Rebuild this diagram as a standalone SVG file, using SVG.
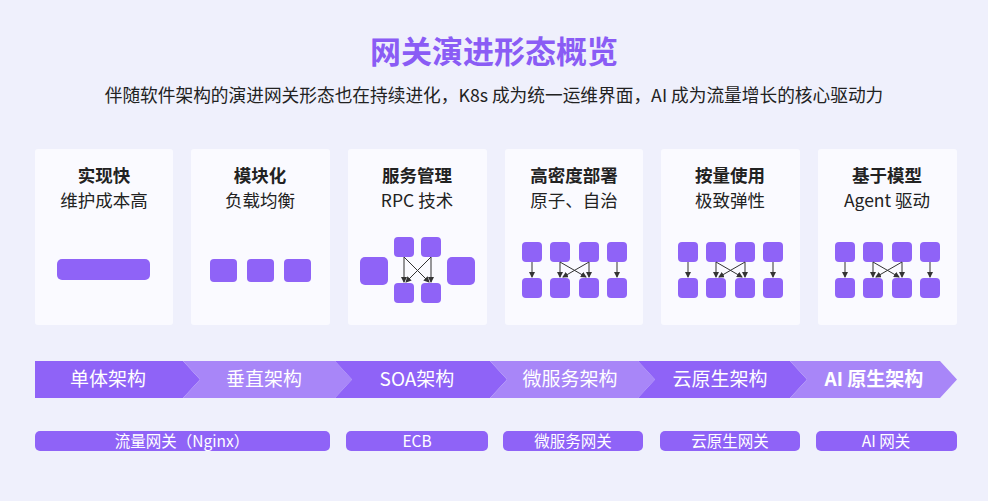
<svg xmlns="http://www.w3.org/2000/svg" width="988" height="501" viewBox="0 0 988 501">
<style>
text{font-family:"Noto Sans CJK SC","Noto Sans",sans-serif}
.card{fill:#fafaff}
.t1{font-size:17.5px;font-weight:bold;fill:#222;text-anchor:middle}
.t2{font-size:17.5px;fill:#222;text-anchor:middle}
.b{fill:#8f63f7}
.dk{fill:#8f63f7}.lt{fill:#a886f8}
.st{font-size:19px;fill:#fff;text-anchor:middle}
.pl{font-size:15.5px;fill:#fff;text-anchor:middle}
.c line{stroke:#333;stroke-width:1;marker-end:url(#a)}
</style>
<defs><marker id="a" markerWidth="6" markerHeight="6" refX="5" refY="3" orient="auto" markerUnits="userSpaceOnUse"><path d="M0,0L6,3L0,6z" fill="#333"/></marker>
<g id="q"><rect x="0" y="0" width="20" height="20" rx="4" class="b"/><rect x="28" y="0" width="20" height="20" rx="4" class="b"/><rect x="57" y="0" width="20" height="20" rx="4" class="b"/><rect x="85" y="0" width="20" height="20" rx="4" class="b"/><rect x="0" y="36" width="20" height="20" rx="4" class="b"/><rect x="28" y="36" width="20" height="20" rx="4" class="b"/><rect x="57" y="36" width="20" height="20" rx="4" class="b"/><rect x="85" y="36" width="20" height="20" rx="4" class="b"/></g>
<g id="qc" class="c"><line x1="10" y1="20" x2="10" y2="35"/><line x1="95" y1="20" x2="95" y2="35"/><line x1="38" y1="20" x2="38" y2="35"/><line x1="67" y1="20" x2="67" y2="35"/><line x1="38" y1="20" x2="64" y2="35"/><line x1="67" y1="20" x2="41" y2="35"/></g>
</defs>
<rect width="988" height="501" fill="#eff0fc"/>
<text x="494" y="63" font-size="31" font-weight="bold" fill="#8a5cf5" text-anchor="middle">网关演进形态概览</text>
<text x="494" y="102" font-size="17.7" fill="#222" text-anchor="middle">伴随软件架构的演进网关形态也在持续进化，K8s 成为统一运维界面，AI 成为流量增长的核心驱动力</text>
<g id="n1"><rect class="card" x="35" y="149" width="138" height="176" rx="3"/><text class="t1" x="104" y="182">实现快</text><text class="t2" x="104" y="207">维护成本高</text><rect x="57" y="259" width="93" height="21" rx="5" class="b"/></g>
<g id="n2"><rect class="card" x="191" y="149" width="139" height="176" rx="3"/><text class="t1" x="260" y="182">模块化</text><text class="t2" x="260" y="207">负载均衡</text><rect x="210" y="259" width="27" height="23" rx="4" class="b"/><rect x="247" y="259" width="27" height="23" rx="4" class="b"/><rect x="284" y="259" width="27" height="23" rx="4" class="b"/></g>
<g id="n3"><rect class="card" x="348" y="149" width="139" height="176" rx="3"/><text class="t1" x="417" y="182">服务管理</text><text class="t2" x="417" y="207">RPC 技术</text><rect x="360" y="257" width="28" height="28" rx="5" class="b"/><rect x="447" y="257" width="28" height="28" rx="5" class="b"/><rect x="394" y="237" width="20" height="20" rx="4" class="b"/><rect x="421" y="237" width="20" height="20" rx="4" class="b"/><rect x="394" y="283" width="20" height="20" rx="4" class="b"/><rect x="421" y="283" width="20" height="20" rx="4" class="b"/></g>
<g id="n4"><rect class="card" x="505" y="149" width="138" height="176" rx="3"/><text class="t1" x="574" y="182">高密度部署</text><text class="t2" x="574" y="207">原子、自治</text><use href="#q" x="522" y="242"/></g>
<g id="n5"><rect class="card" x="661" y="149" width="139" height="176" rx="3"/><text class="t1" x="730" y="182">按量使用</text><text class="t2" x="730" y="207">极致弹性</text><use href="#q" x="678" y="242"/></g>
<g id="n6"><rect class="card" x="818" y="149" width="139" height="176" rx="3"/><text class="t1" x="887" y="182">基于模型</text><text class="t2" x="887" y="207">Agent 驱动</text><use href="#q" x="835" y="242"/></g>
<g id="connectors">
<g class="c"><line x1="404" y1="257" x2="404" y2="282"/><line x1="431" y1="257" x2="431" y2="282"/><line x1="404" y1="257" x2="429" y2="282"/><line x1="431" y1="257" x2="406" y2="282"/></g>
<use href="#qc" x="522" y="242"/><use href="#qc" x="678" y="242"/><use href="#qc" x="835" y="242"/>
</g>
<g id="stages">
<polygon class="dk" points="35,361 183,361 200,379.5 183,398 35,398"/>
<polygon class="lt" points="183,361 335,361 352,379.5 335,398 183,398 200,379.5"/>
<polygon class="dk" points="335,361 490,361 507,379.5 490,398 335,398 352,379.5"/>
<polygon class="lt" points="490,361 638,361 655,379.5 638,398 490,398 507,379.5"/>
<polygon class="dk" points="638,361 790,361 807,379.5 790,398 638,398 655,379.5"/>
<polygon class="lt" points="790,361 940,361 957,379.5 940,398 790,398 807,379.5"/>
<text class="st" x="108" y="386">单体架构</text><text class="st" x="264" y="386">垂直架构</text><text class="st" x="417" y="386">SOA架构</text><text class="st" x="570" y="386">微服务架构</text><text class="st" x="720" y="386">云原生架构</text><text class="st" x="874" y="386" font-weight="bold">AI 原生架构</text>
</g>
<g id="gateways">
<rect class="dk" x="35" y="431" width="295" height="20" rx="5"/><text class="pl" x="182" y="446.5">流量网关（Nginx）</text>
<rect class="dk" x="346" y="431" width="142" height="20" rx="5"/><text class="pl" x="417" y="446.5">ECB</text>
<rect class="dk" x="503" y="431" width="140" height="20" rx="5"/><text class="pl" x="573" y="446.5">微服务网关</text>
<rect class="dk" x="660" y="431" width="140" height="20" rx="5"/><text class="pl" x="730" y="446.5">云原生网关</text>
<rect class="dk" x="816" y="431" width="141" height="20" rx="5"/><text class="pl" x="886" y="446.5">AI 网关</text>
</g>
</svg>
